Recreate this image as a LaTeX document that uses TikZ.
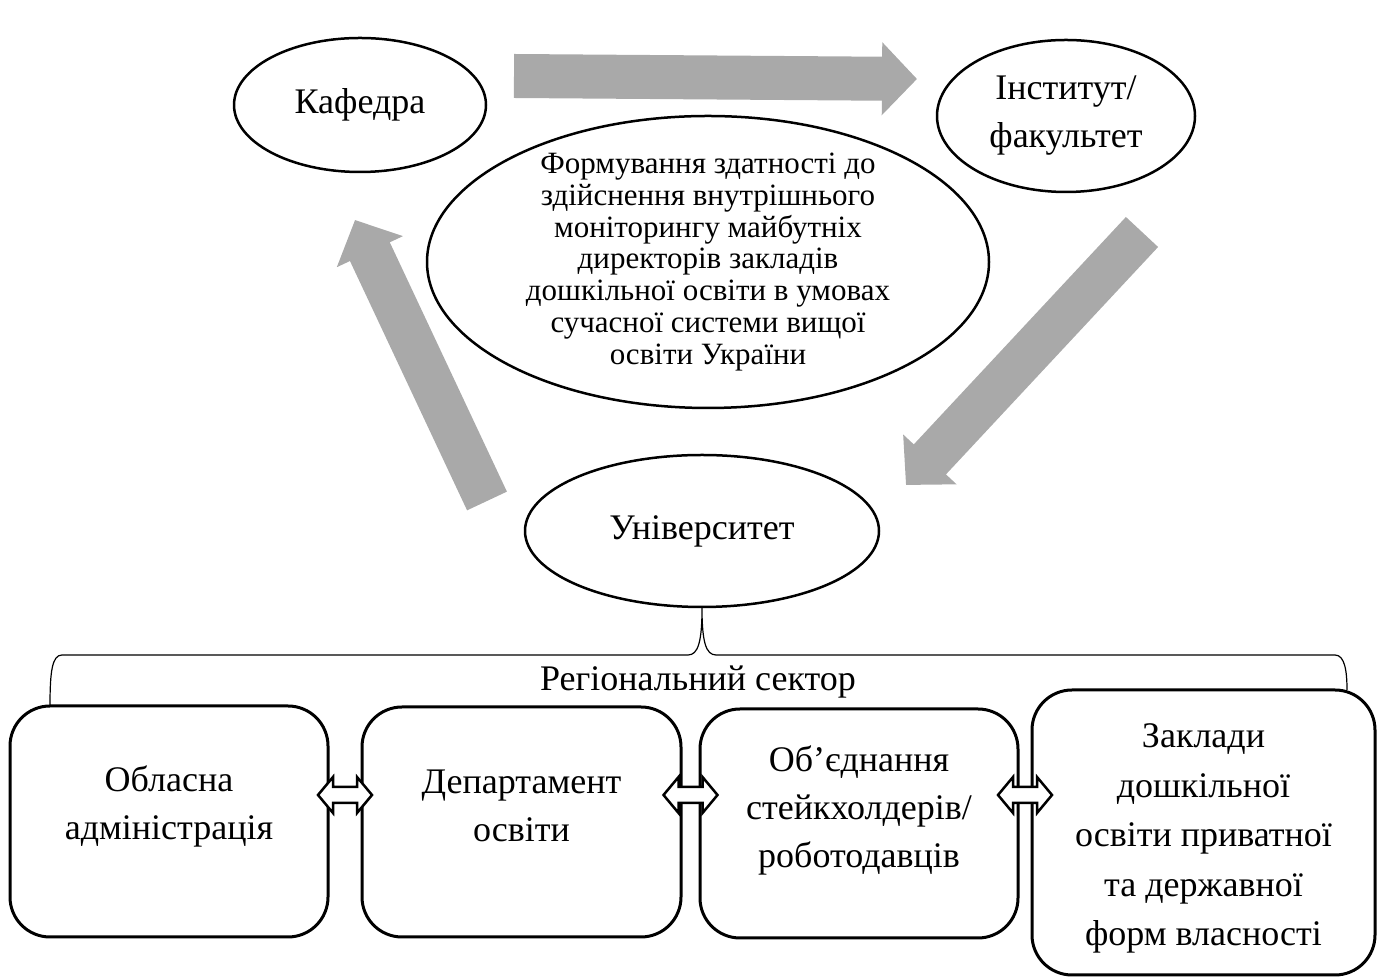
\documentclass[tikz,border=0pt]{standalone}
\usepackage{fontspec}
\setmainfont{Liberation Serif}
\usetikzlibrary{shapes.geometric,arrows.meta,calc}
\definecolor{flowgray}{RGB}{169,169,169}
\tikzset{
  oval/.style = {ellipse, draw, line width = 2.5pt, inner sep = 0pt, align = center,
    font = \fontsize{36}{48}\selectfont},
  unitbox/.style = {draw, line width = 3pt, rounded corners = 40pt},
  unittext/.style = {align = center, font = \fontsize{36}{48}\selectfont},
  flow/.style = {flowgray, line width = 44pt, -{Triangle[length = 35pt, width = 71pt]}},
  twoway/.style = {draw, fill = white, line width = 2.5pt}
}
\newcommand{\bothways}[1]{\draw[twoway] #1 ++(-27,0) -- ++(15,18) -- ++(0,-10) -- ++(24,0) -- ++(0,10) -- ++(15,-18) -- ++(-15,-18) -- ++(0,10) -- ++(-24,0) -- ++(0,-10) -- cycle;}

\begin{document}
\begin{tikzpicture}[x = 1pt, y = 1pt]
\useasboundingbox (0,0) rectangle (1377,977);
% top of the scheme
\node[oval, minimum width = 252pt, minimum height = 134pt] (kaf) at (360,872) {Кафедра};
\node[oval, minimum width = 258pt, minimum height = 152pt] (inst) at (1066,861) {Інститут/\\факультет};
\node[oval, minimum width = 562pt, minimum height = 292pt, inner sep = -9pt,
  font = \fontsize{31}{31.7}\selectfont] (goal) at (708,715)
  {Формування здатності до\\здійснення внутрішнього\\моніторингу майбутніх\\директорів закладів\\дошкільної освіти в умовах\\сучасної системи вищої\\освіти України};
\node[oval, minimum width = 354pt, minimum height = 152pt] (uni) at (702,446) {Університет};
% gray arrows
\coordinate (f1s) at (514,901);
\coordinate (f1e) at (917,898);
\coordinate (f2s) at (1142,745);
\coordinate (f2e) at (906,492);
\coordinate (f3s) at (487,476);
\coordinate (f3e) at (355,757);
\draw[flow] (f1s) -- (f1e);
\draw[flow] (f2s) -- (f2e);
\draw[flow] (f3s) -- (f3e);
% brace
\draw[line width = 1.2pt] (50,271) .. controls (50,305) and (52,322) .. (62,322) -- (688,322)
  .. controls (698,322) and (702,335) .. (uni.south)
  .. controls (702,335) and (706,322) .. (716,322) -- (1335,322)
  .. controls (1345,322) and (1347,305) .. (1347,287);
\node[unittext] (region) at (698,295) {Регіональний сектор};
% regional sector
\node[unitbox, minimum width = 318pt, minimum height = 231pt] (obl) at (169,155.5) {};
\node[unittext] (obltext) at ([yshift = 15pt]obl.center) {Обласна\\адміністрація};
\node[unitbox, minimum width = 319pt, minimum height = 230pt] (dep) at (521.5,155) {};
\node[unittext] (deptext) at ([yshift = 16pt]dep.center) {Департамент\\освіти};
\node[unitbox, minimum width = 318pt, minimum height = 229pt] (stake) at (859,153.5) {};
\node[unittext] (staketext) at ([yshift = 13pt]stake.center) {Об’єднання\\стейкхолдерів/\\роботодавців};
\node[unitbox, minimum width = 343pt, minimum height = 285pt] (kinder) at (1203.5,144.5) {};
\node[unittext, font = \fontsize{36}{49.5}\selectfont] (kindertext) at ([yshift = -6pt]kinder.center)
  {Заклади\\дошкільної\\освіти приватної\\та державної\\форм власності};
\coordinate (row) at (0,182);
\bothways{($(obl.east |- row)!0.5!(dep.west |- row)$)}
\bothways{($(dep.east |- row)!0.5!(stake.west |- row)$)}
\bothways{($(stake.east |- row)!0.5!(kinder.west |- row)$)}
\end{tikzpicture}
\end{document}
